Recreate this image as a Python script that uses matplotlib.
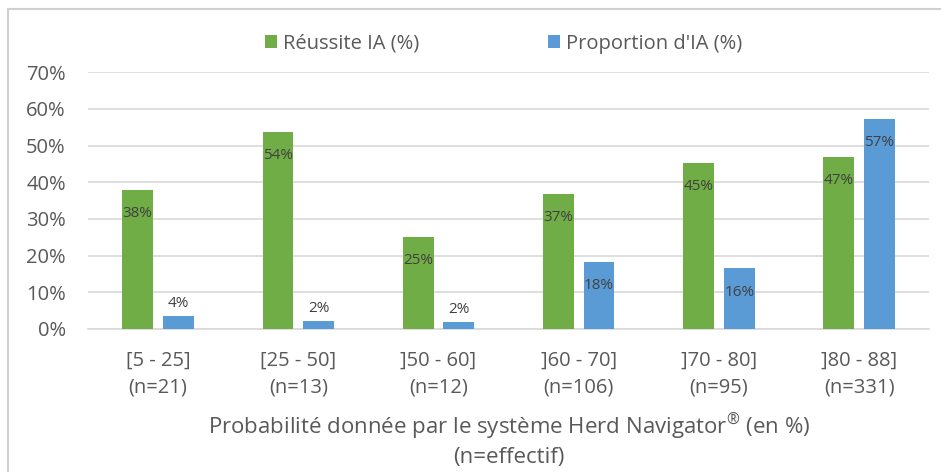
import matplotlib
matplotlib.use('Agg')
import matplotlib.pyplot as plt
from matplotlib.patches import Rectangle
import numpy as np

# ── data ────────────────────────────────────────────────────────────────
categories = ["[5 - 25]", "[25 - 50]", "]50 - 60]", "]60 - 70]", "]70 - 80]", "]80 - 88]"]
effectifs  = [21, 13, 12, 106, 95, 331]
reussite   = [38.0, 53.8, 25.0, 36.8, 45.3, 46.8]   # Réussite IA (%)
proportion = [3.5, 2.2, 2.0, 18.3, 16.5, 57.3]      # Proportion d'IA (%)
reussite_lbl   = ["38%", "54%", "25%", "37%", "45%", "47%"]
proportion_lbl = ["4%", "2%", "2%", "18%", "16%", "57%"]

GREEN = "#70ad47"
BLUE  = "#5b9bd5"
TXT   = "#595959"
LBL   = "#404040"

plt.rcParams['font.family'] = ['Open Sans', 'DejaVu Sans']

fig = plt.figure(figsize=(9.41, 4.72), dpi=100)
ax = fig.add_axes([0.0935, 0.303, 0.894, 0.544])

x = np.arange(len(categories))
w = 0.22
off = 0.145

b1 = ax.bar(x - off, reussite, width=w, color=GREEN, label="Réussite IA (%)", zorder=3)
b2 = ax.bar(x + off, proportion, width=w, color=BLUE, label="Proportion d'IA (%)", zorder=3)

# data labels: inside end when bar tall enough, otherwise above
for bars, vals, lbls in ((b1, reussite, reussite_lbl), (b2, proportion, proportion_lbl)):
    for rect, v, s in zip(bars, vals, lbls):
        cx = rect.get_x() + rect.get_width() / 2
        dy = -17 if v > 10 else 9
        ax.annotate(s, (cx, v), xytext=(0, dy), textcoords="offset points",
                    ha="center", va="center", fontsize=11, color=LBL, zorder=4)

ax.set_xlim(-0.5, len(categories) - 0.5)
ax.set_ylim(0, 70)
ax.set_yticks(np.arange(0, 71, 10))
ax.set_yticklabels([f"{v}%" for v in range(0, 71, 10)])
ax.set_xticks(x)
ax.set_xticklabels([f"{c}\n(n={n})" for c, n in zip(categories, effectifs)])
ax.tick_params(axis="both", length=0, labelsize=14.5, colors=TXT)
ax.tick_params(axis="x", pad=16)
ax.tick_params(axis="y", pad=16)
for lab in ax.get_xticklabels():
    lab.set_linespacing(1.4)

ax.grid(axis="y", color="#d9d9d9", linewidth=1.2, zorder=0)
for sp in ("top", "right", "left"):
    ax.spines[sp].set_visible(False)
ax.spines["bottom"].set_color("#d9d9d9")
ax.spines["bottom"].set_linewidth(1.2)

ax.set_xlabel("Probabilité donnée par le système Herd Navigator$^{\\mathregular{\u00ae}}$ (en %)\n(n=effectif)",
              fontsize=16, color=TXT, labelpad=10, linespacing=1.4)

fig.legend(handles=[b1, b2], loc="center", bbox_to_anchor=(0.535, 0.907), ncol=2,
           frameon=False, fontsize=14.5, labelcolor=TXT, handlelength=0.6,
           handleheight=0.6, handletextpad=0.3, columnspacing=6.4)

# chart-area border (only left and top edges visible in the crop)
fig.patches.append(Rectangle((0.0085, -0.2), 1.2, 0.981 + 0.2, transform=fig.transFigure,
                             fill=False, edgecolor="#d0d0d0", linewidth=1.5))

fig.savefig("out.png", dpi=100)
